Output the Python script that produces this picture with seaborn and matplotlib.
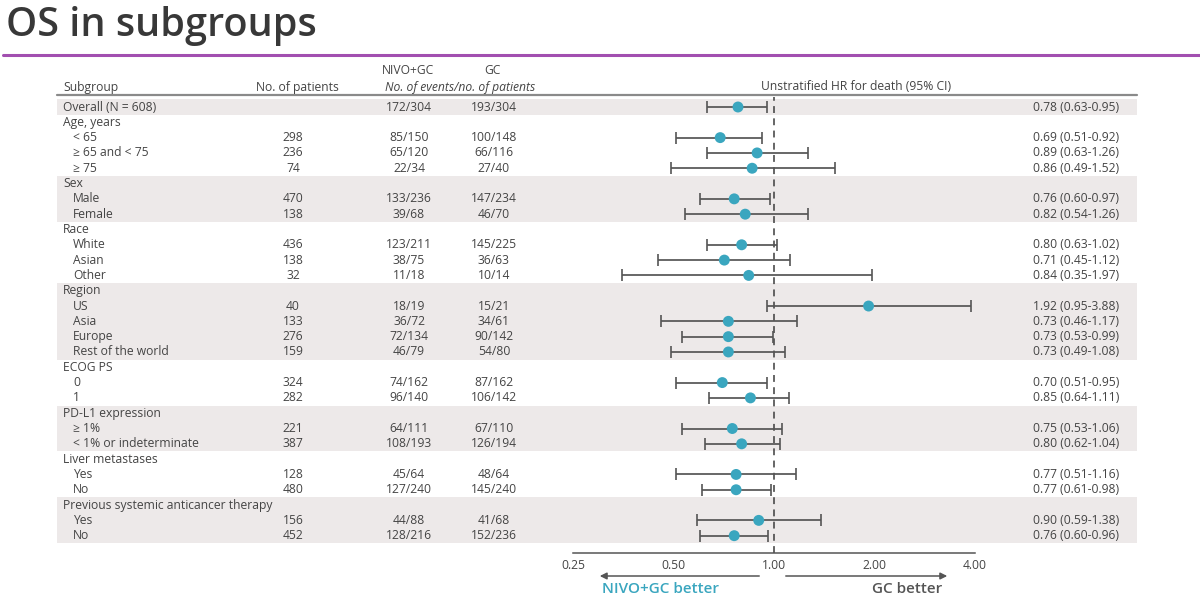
import numpy as np
import pandas as pd
import matplotlib
matplotlib.use("Agg")
import matplotlib.pyplot as plt
import seaborn as sns
from matplotlib.transforms import blended_transform_factory
from matplotlib.patches import Rectangle
from matplotlib.lines import Line2D

# ---------------- data ----------------
subgroups = ["Overall (N = 608)", "Age, years", "< 65", "\u2265 65 and < 75", "\u2265 75",
             "Sex", "Male", "Female",
             "Race", "White", "Asian", "Other",
             "Region", "US", "Asia", "Europe", "Rest of the world",
             "ECOG PS", "0", "1",
             "PD-L1 expression", "\u2265 1%", "< 1% or indeterminate",
             "Liver metastases", "Yes", "No",
             "Previous systemic anticancer therapy", "Yes", "No"]
levels = [0, 0, 1, 1, 1, 0, 1, 1, 0, 1, 1, 1, 0, 1, 1, 1, 1, 0, 1, 1, 0, 1, 1, 0, 1, 1, 0, 1, 1]
n_patients = ["", "", "298", "236", "74", "", "470", "138", "", "436", "138", "32",
              "", "40", "133", "276", "159", "", "324", "282", "", "221", "387",
              "", "128", "480", "", "156", "452"]
nivo_events = ["172/304", "", "85/150", "65/120", "22/34", "", "133/236", "39/68",
               "", "123/211", "38/75", "11/18", "", "18/19", "36/72", "72/134", "46/79",
               "", "74/162", "96/140", "", "64/111", "108/193", "", "45/64", "127/240",
               "", "44/88", "128/216"]
gc_events = ["193/304", "", "100/148", "66/116", "27/40", "", "147/234", "46/70",
             "", "145/225", "36/63", "10/14", "", "15/21", "34/61", "90/142", "54/80",
             "", "87/162", "106/142", "", "67/110", "126/194", "", "48/64", "145/240",
             "", "41/68", "152/236"]
hr = [0.78, None, 0.69, 0.89, 0.86, None, 0.76, 0.82, None, 0.80, 0.71, 0.84,
      None, 1.92, 0.73, 0.73, 0.73, None, 0.70, 0.85, None, 0.75, 0.80,
      None, 0.77, 0.77, None, 0.90, 0.76]
ci_low = [0.63, None, 0.51, 0.63, 0.49, None, 0.60, 0.54, None, 0.63, 0.45, 0.35,
          None, 0.95, 0.46, 0.53, 0.49, None, 0.51, 0.64, None, 0.53, 0.62,
          None, 0.51, 0.61, None, 0.59, 0.60]
ci_high = [0.95, None, 0.92, 1.26, 1.52, None, 0.97, 1.26, None, 1.02, 1.12, 1.97,
           None, 3.88, 1.17, 0.99, 1.08, None, 0.95, 1.11, None, 1.06, 1.04,
           None, 1.16, 0.98, None, 1.38, 0.96]
x_ticks = [0.25, 0.5, 1.0, 2.0, 4.0]
x_ticklabels = ["0.25", "0.50", "1.00", "2.00", "4.00"]

# ---------------- style ----------------
sns.set_theme(style="white")
plt.rcParams["font.family"] = ["Open Sans", "DejaVu Sans"]
TXT = "#444444"
TEAL = "#3AA6BF"
BAND = "#EDE9E9"
FS = 8.7

W, H = 1200, 603
fig = plt.figure(figsize=(W / 100, H / 100), dpi=100)
fig.patch.set_facecolor("white")

def fx(px):
    return px / W

def fy(py):
    return 1 - py / H

ax_left, ax_right, ax_top, ax_bot = 573, 975, 97, 553
ax = fig.add_axes([fx(ax_left), fy(ax_bot), fx(ax_right - ax_left), (ax_bot - ax_top) / H])

nrows = len(subgroups)
row0_px, pitch = 107.0, 15.31
ylims = ((ax_bot - row0_px) / pitch, (ax_top - row0_px) / pitch)
ax.set_xscale("log", base=2)

df = pd.DataFrame({"row": np.arange(nrows), "hr": hr, "lo": ci_low, "hi": ci_high})
dd = df.dropna().copy()

tr = blended_transform_factory(fig.transFigure, ax.transData)

# shaded bands (alternate groups)
group_idx = np.cumsum([1 if l == 0 else 0 for l in levels]) - 1
for g in np.unique(group_idx):
    if g % 2 == 0:
        rows = np.where(group_idx == g)[0]
        r = Rectangle((fx(57), rows[0] - 0.5), fx(1137) - fx(57), rows[-1] - rows[0] + 1,
                      transform=tr, facecolor=BAND, edgecolor="none", zorder=0, clip_on=False)
        ax.add_patch(r)

# reference line
ax.axvline(1.0, color="#3c3c3c", ls=(0, (4.5, 3.5)), lw=1.1, zorder=1)

# CIs and points
ax.errorbar(dd["hr"], dd["row"], xerr=[dd["hr"] - dd["lo"], dd["hi"] - dd["hr"]],
            fmt="none", ecolor="#555555", elinewidth=1.25, capsize=4, capthick=1.2, zorder=2)
sns.scatterplot(data=dd, x="hr", y="row", ax=ax, color=TEAL, s=62, edgecolor="none",
                zorder=3, legend=False)
ax.set_ylim(*ylims)
ax.set_xlim(x_ticks[0], x_ticks[-1])

ax.set_xlabel("")
ax.set_ylabel("")
ax.set_yticks([])
ax.set_xticks(x_ticks)
ax.set_xticklabels(x_ticklabels, color=TXT, fontsize=FS)
ax.minorticks_off()
ax.tick_params(axis="x", direction="in", length=6, width=1.1, color="#555555", pad=4)
for s in ["left", "top", "right"]:
    ax.spines[s].set_visible(False)
ax.spines["bottom"].set_color("#555555")
ax.spines["bottom"].set_linewidth(1.1)
ax.patch.set_alpha(0)

# table text
for i in range(nrows):
    xlab = 63 if levels[i] == 0 else 73
    ax.text(fx(xlab), i, subgroups[i], transform=tr, ha="left", va="center",
            fontsize=FS, color=TXT)
    if n_patients[i]:
        ax.text(fx(293), i, n_patients[i], transform=tr, ha="center", va="center",
                fontsize=FS, color=TXT)
    if nivo_events[i]:
        ax.text(fx(409), i, nivo_events[i], transform=tr, ha="center", va="center",
                fontsize=FS, color=TXT)
    if gc_events[i]:
        ax.text(fx(494), i, gc_events[i], transform=tr, ha="center", va="center",
                fontsize=FS, color=TXT)
for _, r in dd.iterrows():
    ax.text(fx(1119), r["row"], f"{r['hr']:.2f} ({r['lo']:.2f}-{r['hi']:.2f})", transform=tr,
            ha="right", va="center", fontsize=FS, color=TXT)

# headers
fig.text(fx(63), fy(87), "Subgroup", ha="left", va="center", fontsize=FS, color=TXT)
fig.text(fx(297), fy(87), "No. of patients", ha="center", va="center", fontsize=FS, color=TXT)
fig.text(fx(408), fy(71), "NIVO+GC", ha="center", va="center", fontsize=FS, color=TXT)
fig.text(fx(492), fy(71), "GC", ha="center", va="center", fontsize=FS, color=TXT)
fig.text(fx(460), fy(87), "No. of events/no. of patients", ha="center", va="center",
         fontsize=FS, color=TXT, style="italic")
fig.text(fx(856), fy(87), "Unstratified HR for death (95% CI)", ha="center", va="center",
         fontsize=FS, color=TXT)
fig.add_artist(Line2D([fx(57), fx(1137)], [fy(95), fy(95)], color="#8a8a8a", lw=1.6))

# title and rule
fig.text(fx(6), fy(26), "OS in subgroups", ha="left", va="center", fontsize=28.5,
         color="#383838", fontweight="semibold")
fig.add_artist(Line2D([fx(3), fx(1200)], [fy(55), fy(55)], color="#A24FB0", lw=2.2))

# direction arrows
ax.annotate("", xy=(fx(597), fy(576)), xytext=(fx(762), fy(576)),
            xycoords="figure fraction", textcoords="figure fraction",
            arrowprops=dict(arrowstyle="-|>", color="#555555", lw=1.1, mutation_scale=10))
ax.annotate("", xy=(fx(950), fy(576)), xytext=(fx(783), fy(576)),
            xycoords="figure fraction", textcoords="figure fraction",
            arrowprops=dict(arrowstyle="-|>", color="#555555", lw=1.1, mutation_scale=10))
fig.text(fx(660), fy(589), "NIVO+GC better", ha="center", va="center", fontsize=11,
         color=TEAL, fontweight="semibold")
fig.text(fx(907), fy(589), "GC better", ha="center", va="center", fontsize=11,
         color="#555555", fontweight="semibold")

fig.savefig("out.png", dpi=100, facecolor="white")
